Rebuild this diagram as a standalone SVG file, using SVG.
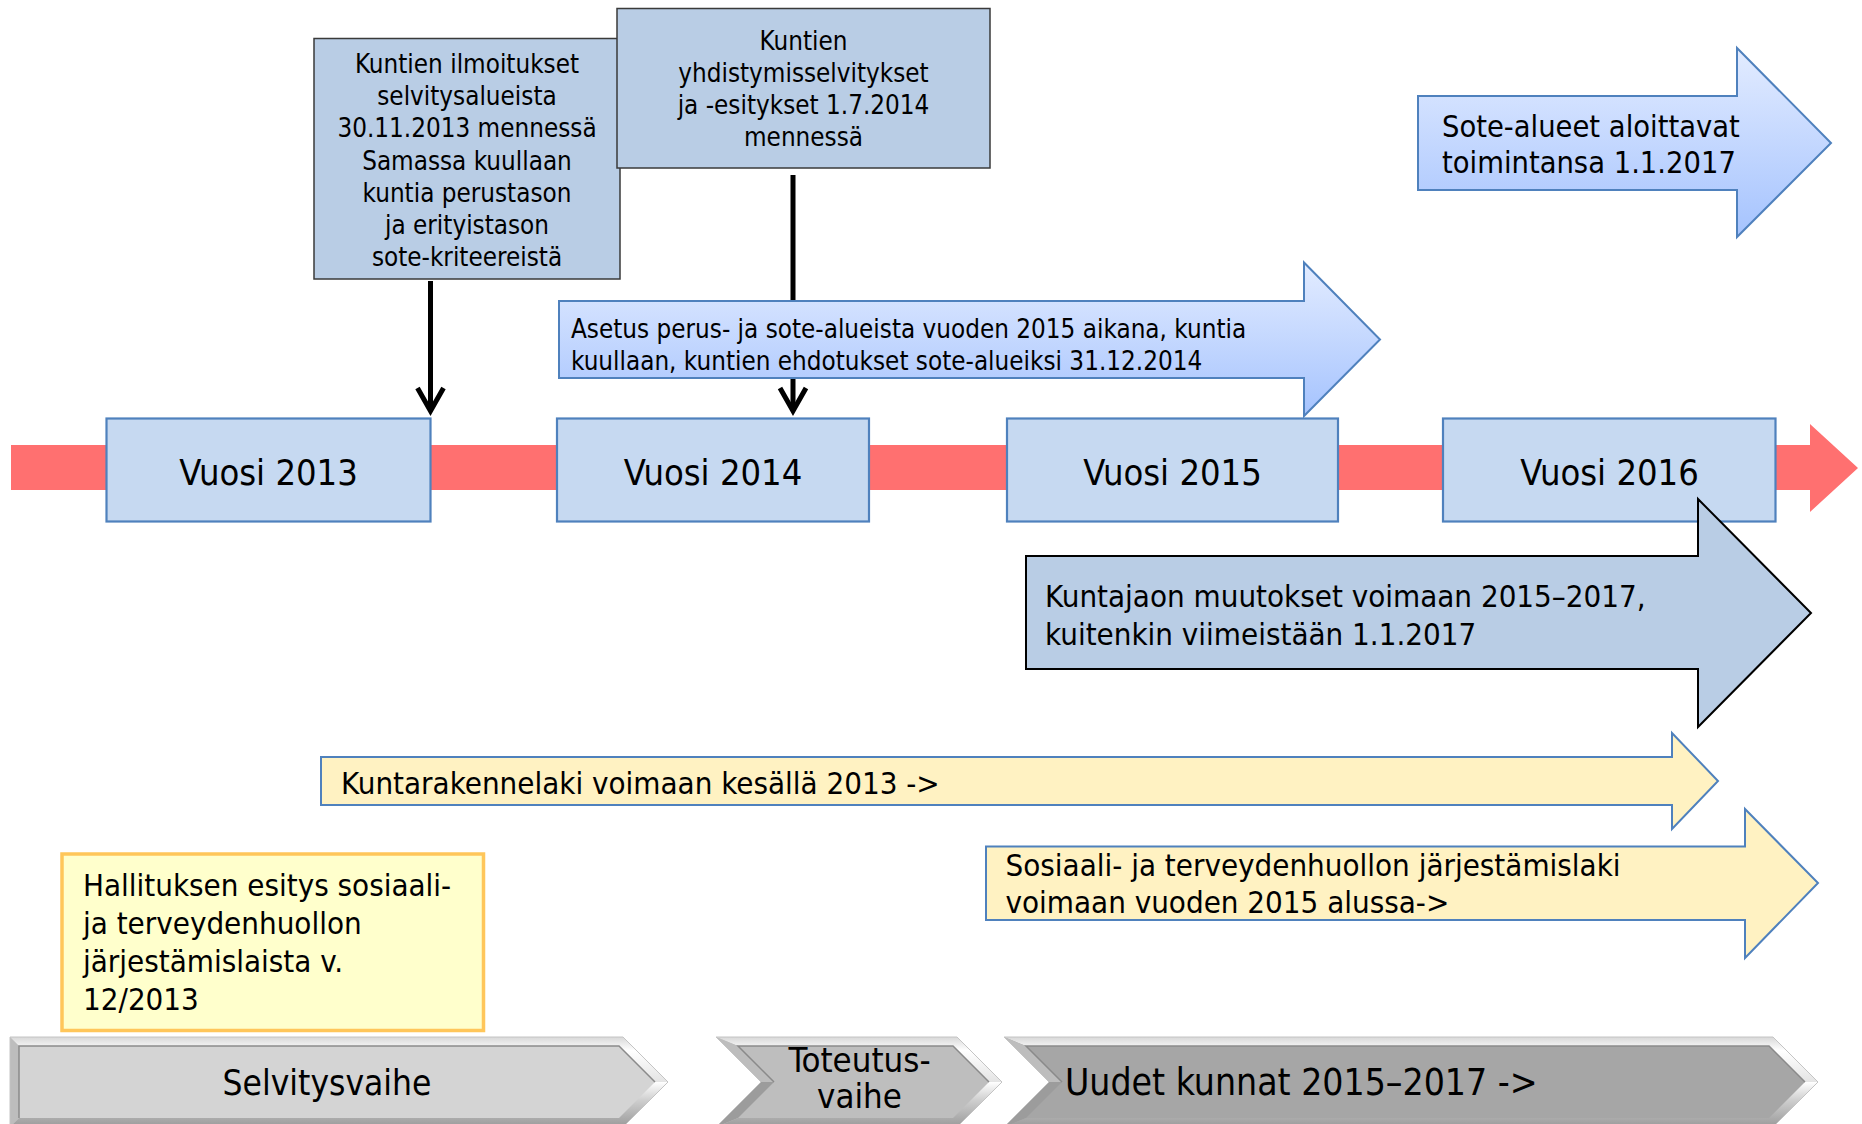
<svg xmlns="http://www.w3.org/2000/svg" width="1862" height="1124" viewBox="0 0 1862 1124">
<style>
text{font-family:"DejaVu Sans Condensed","DejaVu Sans",sans-serif;fill:#000}
.s{font-size:25.8px}
.m{font-size:31px}
.l{font-size:36px}
.c{text-anchor:middle}
.year{fill:#C6D9F1;stroke:#4F81BD;stroke-width:2.2}
.note{fill:#B9CDE5;stroke:#3A3A3A;stroke-width:1.5}
.grad{fill:url(#blueGrad);stroke:#4F81BD;stroke-width:2}
.yel{fill:#FFF2C2;stroke:#4F81BD;stroke-width:2}
.conn{stroke:#000;stroke-width:5;fill:none}
.ftop{fill:url(#topFacet)}
.fleft{fill:#BDBDBD}
.flow{fill:#9C9C9C}
.fbot{fill:url(#botFacet)}
.edge{fill:none;stroke:#C4C4C4;stroke-width:1}
.inl{fill:none;stroke:#8A8A8A;stroke-width:1.5}
</style>
<defs>
<linearGradient id="blueGrad" x1="0" y1="0" x2="0" y2="1">
<stop offset="0" stop-color="#E3ECFF"/>
<stop offset="1" stop-color="#A5C3FE"/>
</linearGradient>
<linearGradient id="topFacet" x1="0" y1="0" x2="0" y2="1">
<stop offset="0" stop-color="#D8D8D8"/>
<stop offset="0.3" stop-color="#FFFFFF"/>
<stop offset="1" stop-color="#E4E4E4"/>
</linearGradient>
<linearGradient id="botFacet" x1="0" y1="0" x2="0" y2="1">
<stop offset="0" stop-color="#FFFFFF"/>
<stop offset="0.4" stop-color="#CFCFCF"/>
<stop offset="1" stop-color="#9A9A9A"/>
</linearGradient>
<marker id="openHead" markerUnits="userSpaceOnUse" viewBox="-35 -20 45 40" markerWidth="45" markerHeight="40" refX="0" refY="0" orient="auto">
<path d="M-23,-13 L0,0 L-23,13" fill="none" stroke="#000" stroke-width="5" stroke-linejoin="miter"/>
</marker>
</defs>

<g id="timeline">
<polygon points="11,445 1810,445 1810,424 1858,468 1810,512 1810,490 11,490" fill="#FF7070"/>
</g>

<g id="connectors">
<line class="conn" x1="430.5" y1="281" x2="430.5" y2="411" marker-end="url(#openHead)"/>
<line class="conn" x1="793" y1="175" x2="793" y2="411" marker-end="url(#openHead)"/>
</g>

<g id="note-ilmoitukset">
<rect class="note" x="314" y="38.5" width="306" height="240.5"/>
<text class="s c" x="467" y="73">Kuntien ilmoitukset</text>
<text class="s c" x="467" y="105">selvitysalueista</text>
<text class="s c" x="467" y="137">30.11.2013 mennessä</text>
<text class="s c" x="467" y="169.5">Samassa kuullaan</text>
<text class="s c" x="467" y="201.5">kuntia perustason</text>
<text class="s c" x="467" y="233.5">ja erityistason</text>
<text class="s c" x="467" y="265.5">sote-kriteereistä</text>
</g>

<g id="note-yhdistymis">
<rect class="note" x="617" y="8.5" width="373" height="159.5"/>
<text class="s c" x="803.5" y="50">Kuntien</text>
<text class="s c" x="803.5" y="82">yhdistymisselvitykset</text>
<text class="s c" x="803.5" y="114">ja -esitykset 1.7.2014</text>
<text class="s c" x="803.5" y="146">mennessä</text>
</g>

<g id="arrow-sote-alueet">
<polygon class="grad" points="1418,96 1737,96 1737,48 1831,143 1737,237 1737,190 1418,190"/>
<text class="m" x="1442" y="136.5" style="font-size:30.5px">Sote-alueet aloittavat</text>
<text class="m" x="1442" y="173" style="font-size:30.5px">toimintansa 1.1.2017</text>
</g>

<g id="arrow-asetus">
<polygon class="grad" points="559,301 1304,301 1304,262.5 1380,339.5 1304,416 1304,378 559,378"/>
<text class="s" x="571" y="337.5">Asetus perus- ja sote-alueista vuoden 2015 aikana, kuntia</text>
<text class="s" x="571" y="369.5">kuullaan, kuntien ehdotukset sote-alueiksi 31.12.2014</text>
</g>

<g id="year-2013">
<rect class="year" x="106.5" y="418.5" width="324" height="103"/>
<text class="l c" x="268.5" y="485">Vuosi 2013</text>
</g>
<g id="year-2014">
<rect class="year" x="557" y="418.5" width="312" height="103"/>
<text class="l c" x="713" y="485">Vuosi 2014</text>
</g>
<g id="year-2015">
<rect class="year" x="1007" y="418.5" width="331" height="103"/>
<text class="l c" x="1172.5" y="485">Vuosi 2015</text>
</g>
<g id="year-2016">
<rect class="year" x="1443" y="418.5" width="332.5" height="103"/>
<text class="l c" x="1609.5" y="485">Vuosi 2016</text>
</g>

<g id="arrow-kuntajako">
<polygon points="1026,556 1698,556 1698,499 1811,613 1698,727 1698,669 1026,669" fill="#B9CDE5" stroke="#000" stroke-width="2"/>
<text class="m" x="1045" y="607">Kuntajaon muutokset voimaan 2015–2017,</text>
<text class="m" x="1045" y="645">kuitenkin viimeistään 1.1.2017</text>
</g>

<g id="arrow-kuntarakennelaki">
<polygon class="yel" points="321,757 1672,757 1672,733 1718,781 1672,829 1672,805 321,805"/>
<text class="m" x="341" y="794">Kuntarakennelaki voimaan kesällä 2013 -&gt;</text>
</g>

<g id="arrow-sosiaali">
<polygon class="yel" points="986,846.5 1745,846.5 1745,809 1818,883 1745,958 1745,920 986,920"/>
<text class="m" x="1005.5" y="876">Sosiaali- ja terveydenhuollon järjestämislaki</text>
<text class="m" x="1005.5" y="913">voimaan vuoden 2015 alussa-&gt;</text>
</g>

<g id="note-hallituksen-esitys">
<rect x="62" y="854" width="421.5" height="176.5" fill="#FFFFCC" stroke="#FFC65A" stroke-width="3.5"/>
<text class="m" x="83" y="896">Hallituksen esitys sosiaali-</text>
<text class="m" x="83" y="934">ja terveydenhuollon</text>
<text class="m" x="83" y="972">järjestämislaista v.</text>
<text class="m" x="83" y="1010">12/2013</text>
</g>

<g id="phase-selvitysvaihe">
<polygon points="10,1037 623,1037 668,1082 623,1127 10,1127" fill="#D4D4D4"/>
<polygon class="ftop" points="10,1037 623,1037 668,1082 655,1082 619,1046 19,1046"/>
<polygon class="fleft" points="10,1037 19,1046 19,1118 10,1127"/>
<polygon class="fbot" points="10,1127 19,1118 619,1118 655,1082 668,1082 623,1127"/>
<polygon points="10,1037 623,1037 668,1082 623,1127 10,1127" class="edge"/>
<polyline class="inl" points="19,1118 19,1046 619,1046 655,1082"/>
<text class="c" x="327" y="1095" style="font-size:35px">Selvitysvaihe</text>
</g>

<g id="phase-toteutusvaihe">
<polygon points="716,1037 957,1037 1002,1082 957,1127 716,1127 761,1082" fill="#BEBEBE"/>
<polygon class="ftop" points="716,1037 957,1037 1002,1082 989,1082 953,1046 738,1046"/>
<polygon class="fleft" points="716,1037 738,1046 774,1082 761,1082"/>
<polygon class="flow" points="761,1082 774,1082 738,1118 716,1127"/>
<polygon class="fbot" points="716,1127 738,1118 953,1118 989,1082 1002,1082 957,1127"/>
<polygon points="716,1037 957,1037 1002,1082 957,1127 716,1127 761,1082" class="edge"/>
<polyline class="inl" points="774,1082 738,1046 953,1046 989,1082"/>
<text class="c" x="859.5" y="1072" style="font-size:34.5px">Toteutus-</text>
<text class="c" x="859.5" y="1108" style="font-size:34.5px">vaihe</text>
</g>

<g id="phase-uudet-kunnat">
<polygon points="1004,1037 1773,1037 1818,1082 1773,1127 1004,1127 1049,1082" fill="#A6A6A6"/>
<polygon class="ftop" points="1004,1037 1773,1037 1818,1082 1805,1082 1769,1046 1026,1046"/>
<polygon class="fleft" points="1004,1037 1026,1046 1062,1082 1049,1082"/>
<polygon class="flow" points="1049,1082 1062,1082 1026,1118 1004,1127"/>
<polygon class="fbot" points="1004,1127 1026,1118 1769,1118 1805,1082 1818,1082 1773,1127"/>
<polygon points="1004,1037 1773,1037 1818,1082 1773,1127 1004,1127 1049,1082" class="edge"/>
<polyline class="inl" points="1062,1082 1026,1046 1769,1046 1805,1082"/>
<text x="1065" y="1095" style="font-size:37px">Uudet kunnat 2015–2017 -&gt;</text>
</g>
</svg>
